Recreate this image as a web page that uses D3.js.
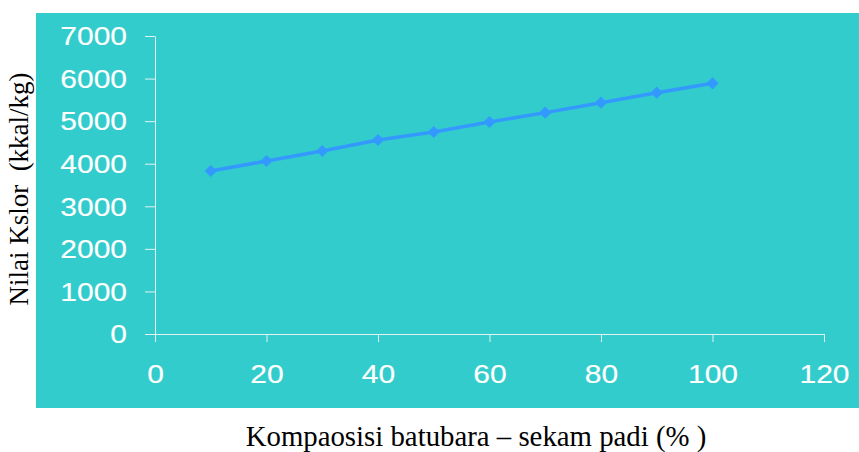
<!DOCTYPE html>
<html><head><meta charset="utf-8">
<script src="https://cdn.jsdelivr.net/npm/d3@7"></script>
<style>body{margin:0;background:#fff}svg{display:block}</style>
</head><body>
<script>
const composition = [10,20,30,40,50,60,70,80,90,100];
const calorific = [3829,4064,4299,4557,4745,4980,5200,5433,5668,5889];
const xTicks = [0,20,40,60,80,100,120];
const yTicks = [0,1000,2000,3000,4000,5000,6000,7000];

const W=859,H=452;
const svg=d3.select("body").append("svg").attr("width",W).attr("height",H);
svg.append("rect").attr("x",36).attr("y",13).attr("width",823).attr("height",395).attr("fill","#33CCCC");

const x=d3.scaleLinear().domain([0,120]).range([155,824]);
const y=d3.scaleLinear().domain([0,7000]).range([334,36]);

const axisColor="#e3f2f2";
const fmt=d3.format("d");
const sx=1.2;
const gx=svg.append("g").attr("transform","translate(0,334)")
  .call(d3.axisBottom(x).tickValues(xTicks).tickFormat(fmt).tickSize(8).tickPadding(23).tickSizeOuter(0));
const gy=svg.append("g").attr("transform","translate(155,0)")
  .call(d3.axisLeft(y).tickValues(yTicks).tickFormat(fmt).tickSize(10).tickPadding(18).tickSizeOuter(0));
[gx,gy].forEach(g=>{
  g.selectAll("path,line").attr("stroke",axisColor).attr("stroke-width",1);
  g.selectAll("text").attr("fill","#fff").attr("stroke","#fff").attr("stroke-width",0.15)
    .style("font-family","Liberation Sans, Arial, sans-serif").style("font-size","25px");
});
gx.selectAll("text").attr("transform",`scale(${sx},1)`);
gy.selectAll("text").attr("dy","0.35em").attr("x",-28/sx).attr("transform",`scale(${sx},1)`);

const line=d3.line().x((d,i)=>x(composition[i])).y(d=>y(d));
svg.append("path").datum(calorific).attr("d",line).attr("fill","none").attr("stroke","#3399FF").attr("stroke-width",3.5);
svg.selectAll(".m").data(calorific).enter().append("path")
  .attr("transform",(d,i)=>`translate(${x(composition[i])},${y(d)})`)
  .attr("d",d3.symbol().type(d3.symbolDiamond2).size(95))
  .attr("fill","#3399FF");

svg.append("text").attr("transform","translate(28,189) rotate(-90)").attr("text-anchor","middle")
  .style("font-family","Liberation Serif, Times New Roman, serif").style("font-size","27px").attr("fill","#000")
  .attr("xml:space","preserve").text("Nilai Kslor  (kkal/kg)");
svg.append("text").attr("x",476).attr("y",446).attr("text-anchor","middle")
  .style("font-family","Liberation Serif, Times New Roman, serif").style("font-size","28.8px").attr("fill","#000")
  .attr("xml:space","preserve").text("Kompaosisi batubara – sekam padi (% )");
</script>
</body></html>
